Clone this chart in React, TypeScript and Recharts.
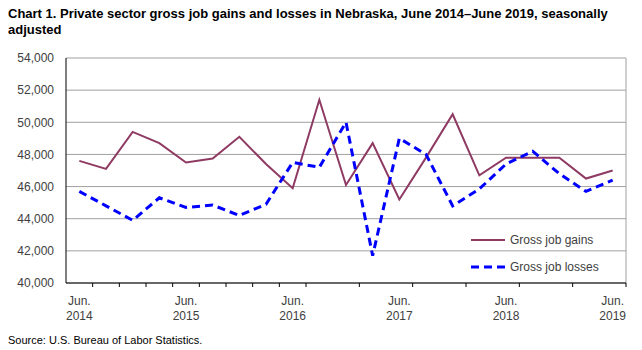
import { LineChart, Line, XAxis, YAxis, CartesianGrid, ReferenceLine } from 'recharts'

const quarters = [
  'Jun. 2014', 'Sep. 2014', 'Dec. 2014', 'Mar. 2015',
  'Jun. 2015', 'Sep. 2015', 'Dec. 2015', 'Mar. 2016',
  'Jun. 2016', 'Sep. 2016', 'Dec. 2016', 'Mar. 2017',
  'Jun. 2017', 'Sep. 2017', 'Dec. 2017', 'Mar. 2018',
  'Jun. 2018', 'Sep. 2018', 'Dec. 2018', 'Mar. 2019',
  'Jun. 2019',
]
const gains = [
  47600, 47100, 49400, 48700, 47500, 47750, 49100, 47400,
  45900, 51400, 46100, 48700, 45200, 47800, 50500, 46700,
  47800, 47800, 47800, 46500, 47000,
]
const losses = [
  45700, 44800, 43900, 45300, 44700, 44850, 44200, 44900,
  47500, 47200, 50000, 41700, 49000, 48000, 44800, 45850,
  47400, 48200, 46800, 45700, 46400,
]
const yTicks = [40000, 42000, 44000, 46000, 48000, 50000, 52000, 54000]

const data = quarters.map((q, i) => ({ i, q, gains: gains[i], losses: losses[i] }))
const boundaries = quarters.map((_, i) => i - 0.5).concat(quarters.length - 0.5)
const labelTicks = quarters.map((_, i) => i).filter(i => i % 4 === 0)

const FONT = '"Liberation Sans", Arial, sans-serif'
const TEXT = '#404040'

const series = [
  { key: 'gains', name: 'Gross job gains', color: '#8e3a62', dash: undefined, w: 2 },
  { key: 'losses', name: 'Gross job losses', color: '#0000ff', dash: '8 5', w: 3 },
]

function LabelTick({ x, y, payload }: any) {
  const [m, yr] = quarters[payload.value].split(' ')
  return (
    <text x={x} y={y} textAnchor="middle" fontSize={12} fill={TEXT} fontFamily={FONT}>
      <tspan x={x} dy={6}>{m}</tspan>
      <tspan x={x} dy={15}>{yr}</tspan>
    </text>
  )
}

const NoTick = () => <g />

export default function App() {
  return (
    <div style={{ position: 'absolute', left: 0, top: 0, width: 642, height: 350, background: '#fff', fontFamily: FONT }}>
      <div style={{ position: 'absolute', left: 8, top: 6, width: 630, fontSize: 13, fontWeight: 'bold', color: '#000', lineHeight: '16px' }}>
        Chart 1. Private sector gross job gains and losses in Nebraska, June 2014–June 2019, seasonally adjusted
      </div>
      <LineChart width={642} height={350} data={data} margin={{ top: 58, right: 16, left: 0, bottom: 19 }} style={{ position: 'absolute', left: 0, top: 0 }}>
        <CartesianGrid vertical={false} stroke="#a0a0a0" />
        <XAxis
          dataKey="i" type="number" domain={[-0.5, quarters.length - 0.5]} ticks={boundaries}
          tick={<NoTick />} tickSize={4} height={8} axisLine={{ stroke: '#000' }} tickLine={{ stroke: '#000' }}
        />
        <XAxis
          xAxisId="lbl" dataKey="i" type="number" domain={[-0.5, quarters.length - 0.5]} ticks={labelTicks}
          tick={<LabelTick />} height={40} axisLine={false} tickLine={false} interval={0}
        />
        <YAxis
          domain={[40000, 54000]} ticks={yTicks} width={66} axisLine={{ stroke: '#000' }} tickLine={false}
          tickMargin={6} tickFormatter={(v: number) => v.toLocaleString('en-US')}
          tick={{ fontSize: 12, fill: TEXT, fontFamily: FONT }}
        />
        <ReferenceLine x={quarters.length - 0.5} stroke="#a0a0a0" />
        {series.map(s => (
          <Line key={s.key} dataKey={s.key} name={s.name} stroke={s.color} strokeWidth={s.w}
            strokeDasharray={s.dash} dot={false} isAnimationActive={false} />
        ))}
      </LineChart>
      <div style={{ position: 'absolute', left: 470, top: 226, fontSize: 12, color: TEXT }}>
        {series.map(s => (
          <div key={s.key} style={{ display: 'flex', alignItems: 'center', height: 27 }}>
            <svg width={38} height={10} style={{ marginRight: 2 }}>
              <line x1={1} y1={5} x2={35} y2={5} stroke={s.color} strokeWidth={s.w} strokeDasharray={s.dash} />
            </svg>
            <span>{s.name}</span>
          </div>
        ))}
      </div>
      <div style={{ position: 'absolute', left: 8, top: 334, fontSize: 11, color: '#000' }}>
        Source: U.S. Bureau of Labor Statistics.
      </div>
    </div>
  )
}
